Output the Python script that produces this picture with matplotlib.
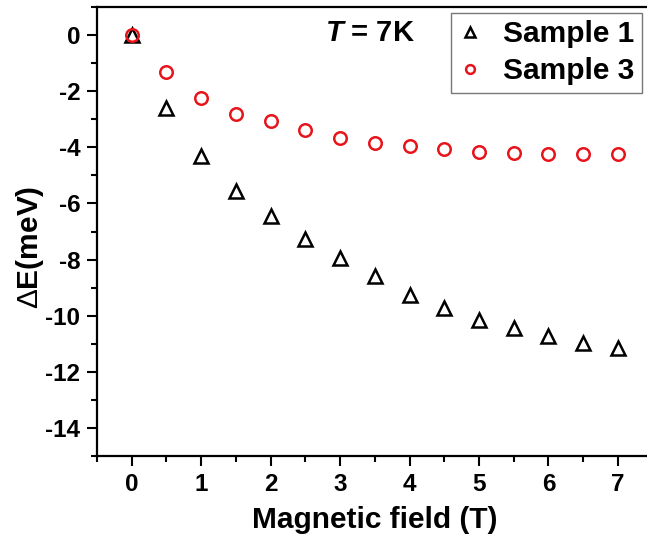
import matplotlib
matplotlib.use("Agg")
import matplotlib.pyplot as plt
from matplotlib.ticker import MultipleLocator

plt.rcParams['font.family'] = ['Liberation Sans', 'DejaVu Sans']
plt.rcParams['font.weight'] = 'bold'
plt.rcParams['axes.unicode_minus'] = False
plt.rcParams['mathtext.fontset'] = 'custom'
plt.rcParams['mathtext.rm'] = 'Liberation Sans:weight=normal'
plt.rcParams['mathtext.it'] = 'Liberation Sans:italic:bold'
plt.rcParams['mathtext.bf'] = 'Liberation Sans:bold'

# data
field = [0, 0.5, 1, 1.5, 2, 2.5, 3, 3.5, 4, 4.5, 5, 5.5, 6, 6.5, 7]
sample1 = [0, -2.61, -4.31, -5.56, -6.46, -7.25, -7.93, -8.6, -9.28,
           -9.72, -10.14, -10.44, -10.71, -10.97, -11.15]
sample3 = [0, -1.32, -2.25, -2.82, -3.06, -3.40, -3.66, -3.84, -3.96,
           -4.07, -4.15, -4.19, -4.23, -4.24, -4.25]

W, H = 647, 539
fig = plt.figure(figsize=(W / 100, H / 100), dpi=100)
ax = fig.add_axes([97 / W, 1 - 456 / H, (647 - 97) / W, (456 - 7) / H])

ax.plot(field, sample1, linestyle='none', marker='^', markersize=10,
        markerfacecolor='none', markeredgecolor='black', markeredgewidth=1.8,
        label='Sample 1')
ax.plot(field, sample3, linestyle='none', marker='o', markersize=9,
        markerfacecolor='none', markeredgecolor='#e8141b', markeredgewidth=1.8,
        label='Sample 3')

ax.set_xlim(-0.5, 7.42)
ax.set_ylim(-15, 1)
ax.xaxis.set_major_locator(MultipleLocator(1))
ax.xaxis.set_minor_locator(MultipleLocator(0.5))
ax.yaxis.set_major_locator(MultipleLocator(2))
ax.yaxis.set_minor_locator(MultipleLocator(1))
ax.tick_params(which='major', direction='out', length=7, width=1.5,
               labelsize=17.5, pad=5)
ax.tick_params(which='minor', direction='out', length=4, width=1.5)
ax.tick_params(top=False, right=False)
for s in ['left', 'bottom', 'top']:
    ax.spines[s].set_linewidth(1.6)
ax.spines['right'].set_visible(False)

fig.text(375 / W, 1 - 520 / H, 'Magnetic field (T)', fontsize=21.5,
         fontweight='bold', ha='center', va='center')
fig.text(30 / W, 1 - 247 / H, r'$\Delta$E(meV)', fontsize=21.5,
         fontweight='bold', ha='center', va='center', rotation=90)
fig.text(370 / W, 1 - 33 / H, r'$T$ = 7K', fontsize=21,
         fontweight='bold', ha='center', va='center')

leg = ax.legend(loc='upper right', bbox_to_anchor=(642 / W, 1 - 13 / H),
                bbox_transform=fig.transFigure,
                prop={'weight': 'bold', 'size': 21.5}, frameon=True,
                fancybox=False, edgecolor='#555555', handlelength=0.8,
                handletextpad=0.7, borderpad=0.25, labelspacing=0.3,
                borderaxespad=0, markerscale=0.7)
leg.get_frame().set_linewidth(1.0)

fig.savefig('out.png', dpi=100)
